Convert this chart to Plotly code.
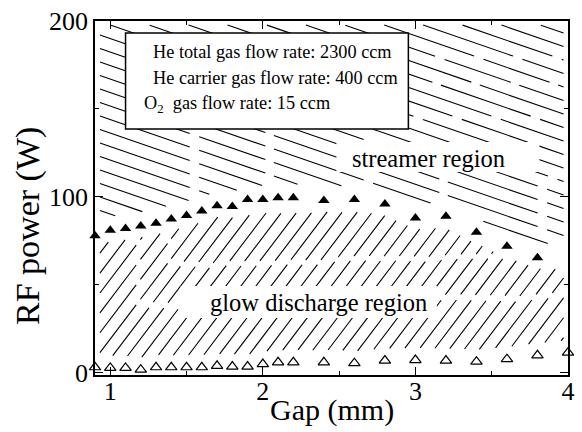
import numpy as np
import plotly.graph_objects as go

# ---------------- data ----------------
gap_upper = [0.9, 1.0, 1.1, 1.2, 1.3, 1.4, 1.5, 1.6, 1.7, 1.8, 1.9, 2.0, 2.1, 2.2,
             2.4, 2.6, 2.8, 3.0, 3.2, 3.4, 3.6, 3.8]
power_upper = [78, 81, 82, 83.5, 85, 87.5, 89.5, 92, 95, 94.5, 98.5, 98.5, 99.5, 99.5,
               98, 98.5, 96, 88, 89, 80, 72, 65.5]
gap_lower = [0.9, 1.0, 1.1, 1.2, 1.3, 1.4, 1.5, 1.6, 1.7, 1.8, 1.9, 2.0, 2.1, 2.2,
             2.4, 2.6, 2.8, 3.0, 3.2, 3.4, 3.6, 3.8, 4.0]
power_lower = [3.2, 2.8, 2.8, 1.8, 3.2, 3.2, 3.2, 3.2, 4.0, 3.6, 3.6, 5.0, 6.0, 6.0,
               6.0, 5.5, 7.0, 7.3, 7.0, 6.4, 7.8, 10.0, 11.5]

x_ticks = [1, 2, 3, 4]
y_ticks = [0, 100, 200]
legend_lines = ["He total gas flow rate: 2300 ccm",
                "He carrier gas flow rate: 400 ccm",
                "O<sub>2</sub>  gas flow rate: 15 ccm"]

# ---------------- geometry ----------------
W, H = 582, 432
ML, MR, MT, MB = 95, 7, 21, 57
PW, PH = W - ML - MR, H - MT - MB
X0, X1, Y0, Y1 = 0.9, 4.0, -1.2, 200
FONT = "Liberation Serif"


def px_x(g):
    return ML + (np.asarray(g) - X0) / (X1 - X0) * PW


def px_y(p):
    return MT + (Y1 - np.asarray(p)) / (Y1 - Y0) * PH


def d_x(x):
    return X0 + (np.asarray(x) - ML) / PW * (X1 - X0)


def d_y(y):
    return Y1 - (np.asarray(y) - MT) / PH * (Y1 - Y0)


def px_paper_x(x):
    return float((x - ML) / PW)


def px_paper_y(y):
    return float(((MT + PH) - y) / PH)


# ---------------- hatching derived from the boundaries ----------------
xs = np.arange(ML + 5, ML + PW - 4, 0.5)
up_px = px_y(np.interp(d_x(xs), gap_upper, power_upper))
lo_px = px_y(np.interp(d_x(xs), gap_lower, power_lower))


def hatch(slope, spacing, valid_fn, c_range):
    hx, hy = [], []
    for c in np.arange(c_range[0], c_range[1], spacing):
        y = c + slope * (xs - ML)
        ok = valid_fn(y)
        idx = np.where(ok)[0]
        if len(idx) == 0:
            continue
        runs = np.split(idx, np.where(np.diff(idx) > 1)[0] + 1)
        for r in runs:
            if len(r) < 3:
                continue
            a, b = r[0], r[-1]
            hx += [xs[a], xs[b], None]
            hy += [y[a], y[b], None]
    gx = [None if v is None else float(d_x(v)) for v in hx]
    gy = [None if v is None else float(d_y(v)) for v in hy]
    return gx, gy


s_slope = 0.34
s_x, s_y = hatch(s_slope, 13.5,
                 lambda y: (y >= MT + 4) & (y <= up_px - 14),
                 (MT - s_slope * PW, MT + PH))
g_slope = -1.3
g_x, g_y = hatch(g_slope, 15.3 * 1.3,
                 lambda y: (y >= up_px + 11) & (y <= lo_px - 12),
                 (MT, MT + PH + 1.3 * PW + 20))

fig = go.Figure()
fig.add_trace(go.Scatter(x=s_x, y=s_y, mode="lines", connectgaps=False,
                         line=dict(color="black", width=1.1, dash="95px,10px,70px,9px"),
                         hoverinfo="skip", showlegend=False))
fig.add_trace(go.Scatter(x=g_x, y=g_y, mode="lines", connectgaps=False,
                         line=dict(color="black", width=1.1, dash="60px,7px,45px,6px"),
                         hoverinfo="skip", showlegend=False))

# white masks behind region labels, and the parameter box
shapes = [
    dict(type="rect", xref="paper", yref="paper", layer="above",
         x0=px_paper_x(340), x1=px_paper_x(546), y0=px_paper_y(172), y1=px_paper_y(142),
         fillcolor="white", line=dict(width=0)),
    dict(type="rect", xref="paper", yref="paper", layer="above",
         x0=px_paper_x(182), x1=px_paper_x(442), y0=px_paper_y(318), y1=px_paper_y(286),
         fillcolor="white", line=dict(width=0)),
    dict(type="rect", xref="paper", yref="paper", layer="above",
         x0=px_paper_x(126), x1=px_paper_x(413), y0=px_paper_y(129), y1=px_paper_y(33),
         fillcolor="white", line=dict(color="black", width=1.5)),
]

fig.add_trace(go.Scatter(x=gap_upper, y=power_upper, mode="markers",
                         marker=dict(symbol="triangle-up", size=10, color="black"),
                         showlegend=False, cliponaxis=False))
fig.add_trace(go.Scatter(x=gap_lower, y=power_lower, mode="markers",
                         marker=dict(symbol="triangle-up-open", size=10, color="black",
                                     line=dict(width=1.2)),
                         showlegend=False, cliponaxis=False))


def ann(text, x, y, size, xanchor="center", angle=0):
    return dict(text=text, xref="paper", yref="paper", x=px_paper_x(x), y=px_paper_y(y),
                xanchor=xanchor, yanchor="middle", textangle=angle, showarrow=False,
                font=dict(family=FONT, size=size, color="black"))


annotations = [
    ann("streamer region", 433, 158, 24.5),
    ann("glow discharge region", 322, 302, 24.5),
    ann("RF power (W)", 27, 226, 34, angle=-90),
    ann("Gap (mm)", 335, 410, 30),
]
for i, (txt, xl) in enumerate(zip(legend_lines, [152, 152, 143])):
    annotations.append(ann(txt, xl, 52 + 26 * i, 18.3, xanchor="left"))

axis_common = dict(showline=True, linecolor="black", linewidth=1.5, mirror="allticks",
                   ticks="inside", ticklen=8, tickwidth=1.2, tickcolor="black",
                   showgrid=False, zeroline=False,
                   tickfont=dict(family=FONT, size=26, color="black"))
fig.update_layout(
    width=W, height=H, margin=dict(l=ML, r=MR, t=MT, b=MB),
    paper_bgcolor="white", plot_bgcolor="white",
    shapes=shapes, annotations=annotations, showlegend=False,
    xaxis=dict(range=[X0, X1], tickvals=x_ticks, ticktext=[str(v) for v in x_ticks],
               ticklabelstandoff=-8,
               minor=dict(tickvals=[1.5, 2.5, 3.5], ticks="inside", ticklen=4,
                          tickcolor="black", tickwidth=1), **axis_common),
    yaxis=dict(range=[Y0, Y1], tickvals=y_ticks, ticktext=[str(v) for v in y_ticks],
               minor=dict(tickvals=[50, 150], ticks="inside", ticklen=4,
                          tickcolor="black", tickwidth=1), **axis_common),
)
fig.write_html("out.html")
